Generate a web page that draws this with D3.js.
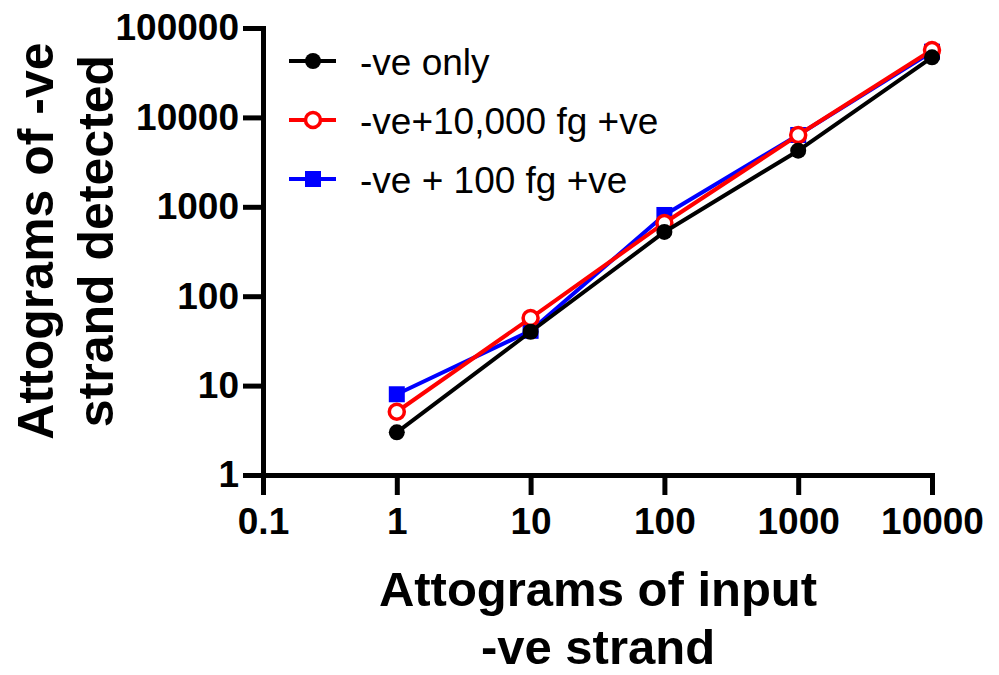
<!DOCTYPE html>
<html><head><meta charset="utf-8">
<script src="https://cdn.jsdelivr.net/npm/d3@7/dist/d3.min.js"></script>
<style>body{margin:0;background:#fff}svg{display:block}</style>
</head><body><svg id="c" width="999" height="675"></svg>
<script>
const xValues = [1, 10, 100, 1000, 10000];
const seriesNames = ["-ve only", "-ve+10,000 fg +ve", "-ve + 100 fg +ve"];
const veOnly = [3, 40, 523, 4245, 47000];
const vePlus10000 = [5.1, 57, 659, 6357, 56750];
const vePlus100 = [8, 41, 810, 6357, 54300];
const xTicks = [0.1, 1, 10, 100, 1000, 10000];
const xTickLabels = ["0.1", "1", "10", "100", "1000", "10000"];
const yTicks = [1, 10, 100, 1000, 10000, 100000];
const yTickLabels = ["1", "10", "100", "1000", "10000", "100000"];
const xTitle = ["Attograms of input", "-ve strand"];
const yTitle = ["Attograms of -ve", "strand detected"];

const series = [
  {name: seriesNames[0], values: veOnly, color: "#000000", marker: "dot"},
  {name: seriesNames[1], values: vePlus10000, color: "#ff0000", marker: "ring"},
  {name: seriesNames[2], values: vePlus100, color: "#0000ff", marker: "square"}
];

const svg = d3.select("#c");
const x = d3.scaleLog().domain([0.1, 10000]).range([263, 932]);
const y = d3.scaleLog().domain([1, 100000]).range([475, 28]);
const FONT = "'Liberation Sans', Arial, Helvetica, sans-serif";

// axes
const xAxis = d3.axisBottom(x).tickValues(xTicks).tickSize(20).tickSizeOuter(0)
  .tickFormat((d, i) => xTickLabels[i]).tickPadding(13);
const yAxis = d3.axisLeft(y).tickValues(yTicks).tickSize(20).tickSizeOuter(0)
  .tickFormat((d, i) => yTickLabels[i]).tickPadding(4);

const gx = svg.append("g").attr("transform", "translate(0,475)").call(xAxis);
const gy = svg.append("g").attr("transform", "translate(263,0)").call(yAxis);
[gx, gy].forEach(g => {
  g.select(".domain").attr("stroke", "#000").attr("stroke-width", 5).attr("stroke-linecap", "square");
  g.selectAll(".tick line").attr("stroke", "#000").attr("stroke-width", 5);
  g.selectAll(".tick text").attr("fill", "#000").style("font-family", FONT)
    .style("font-weight", "bold").style("font-size", "37px");
});

// lines & markers: draw blue, red, black (black on top)
const line = d3.line().x((d, i) => x(xValues[i])).y(d => y(d));
const drawOrder = [series[2], series[1], series[0]];

function drawMarker(g, s, cx, cy) {
  if (s.marker === "dot") {
    g.append("circle").attr("cx", cx).attr("cy", cy).attr("r", 8).attr("fill", s.color);
  } else if (s.marker === "ring") {
    g.append("circle").attr("cx", cx).attr("cy", cy).attr("r", 7.5).attr("fill", "#fff")
      .attr("stroke", s.color).attr("stroke-width", 3.5);
  } else {
    g.append("rect").attr("x", cx - 8).attr("y", cy - 8).attr("width", 16).attr("height", 16).attr("fill", s.color);
  }
}

drawOrder.forEach(s => {
  const g = svg.append("g");
  g.append("path").datum(s.values).attr("d", line).attr("fill", "none")
    .attr("stroke", s.color).attr("stroke-width", 4).attr("stroke-linejoin", "round");
  s.values.forEach((v, i) => drawMarker(g, s, x(xValues[i]), y(v)));
});

// legend
const legendRows = [61, 120, 179];
series.forEach((s, i) => {
  const g = svg.append("g");
  const ly = legendRows[i];
  g.append("line").attr("x1", 289).attr("x2", 336).attr("y1", ly).attr("y2", ly)
    .attr("stroke", s.color).attr("stroke-width", 4);
  drawMarker(g, s, 313, ly);
  g.append("text").attr("x", 360).attr("y", ly + 14).text(s.name)
    .style("font-family", FONT).style("font-size", "37px").attr("fill", "#000");
});

// axis titles
svg.append("g").selectAll("text").data(xTitle).join("text")
  .attr("x", 598).attr("y", (d, i) => 606 + i * 58).attr("text-anchor", "middle")
  .style("font-family", FONT).style("font-weight", "bold").style("font-size", "49px").text(d => d);

svg.append("g").selectAll("text").data(yTitle).join("text")
  .attr("transform", (d, i) => `translate(${53 + i * 60},241) rotate(-90)`)
  .attr("text-anchor", "middle")
  .style("font-family", FONT).style("font-weight", "bold").style("font-size", "50px").text(d => d);
</script></body></html>
